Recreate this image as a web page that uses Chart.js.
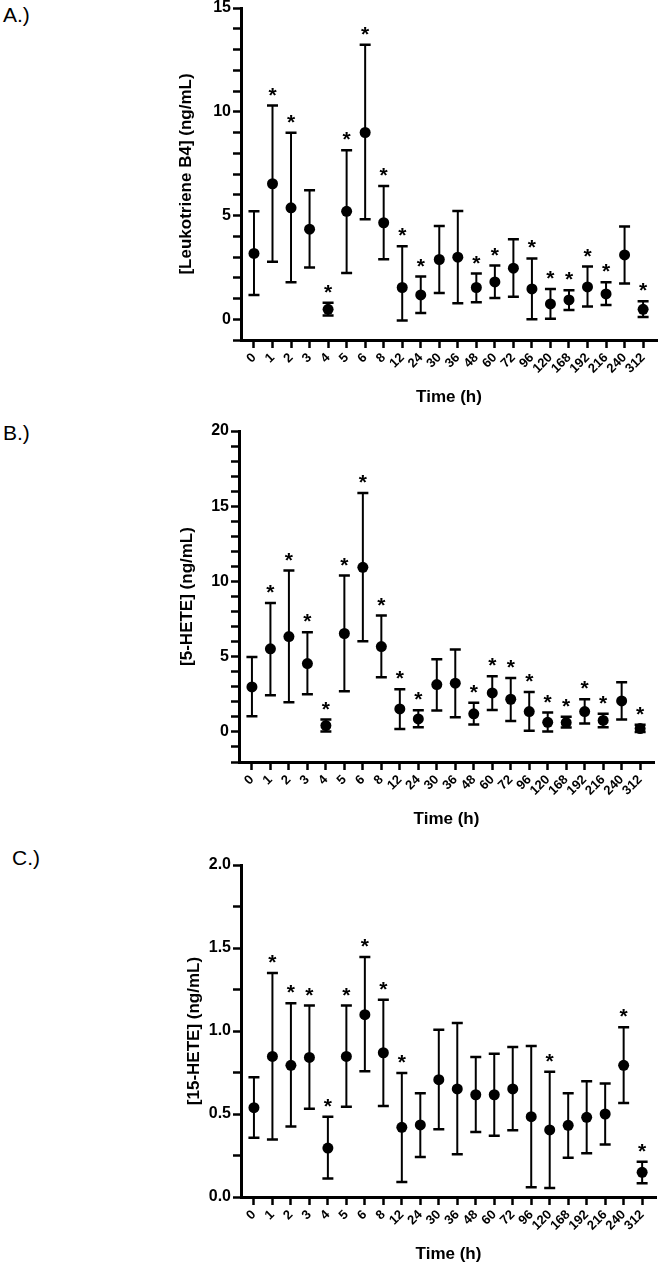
<!DOCTYPE html>
<html>
<head>
<meta charset="utf-8">
<script src="https://cdn.jsdelivr.net/npm/chart.js@4"></script>
<style>
  body { margin:0; background:#fff; width:658px; height:1269px; position:relative; overflow:hidden; }
  canvas { position:absolute; left:0; }
  .lbl { position:absolute; font:21px Arial, 'Liberation Sans', sans-serif; line-height:1; color:#000; }
</style>
</head>
<body>
<div class="lbl" style="left:3px;top:4px">A.)</div>
<div class="lbl" style="left:3px;top:422px">B.)</div>
<div class="lbl" style="left:12px;top:847px">C.)</div>
<canvas id="cA" width="658" height="420" style="top:0"></canvas>
<canvas id="cB" width="658" height="420" style="top:420px"></canvas>
<canvas id="cC" width="658" height="429" style="top:840px"></canvas>
<script>
// ── data: mean with lower / upper ends of the error bars, * = significant ──
const times = ['0','1','2','3','4','5','6','8','12','24','30','36','48','60','72','96','120','168','192','216','240','312'];

const ltb4Mean = [3.17, 6.53, 5.37, 4.34, 0.48, 5.20, 9.00, 4.65, 1.53, 1.17, 2.88, 2.99, 1.53, 1.80, 2.46, 1.46, 0.74, 0.93, 1.56, 1.22, 3.10, 0.48];
const ltb4Hi   = [5.20, 10.30, 8.99, 6.22, 0.80, 8.15, 13.23, 6.42, 3.52, 2.06, 4.49, 5.22, 2.20, 2.59, 3.86, 2.93, 1.46, 1.40, 2.54, 1.78, 4.47, 0.87];
const ltb4Lo   = [1.17, 2.77, 1.78, 2.49, 0.18, 2.23, 4.82, 2.89, -0.06, 0.30, 1.27, 0.77, 0.82, 1.03, 1.09, 0.00, 0.03, 0.45, 0.61, 0.69, 1.72, 0.11];
const ltb4Star = [0,1,1,0,1,1,1,1,1,1,0,0,1,1,0,1,1,1,1,1,0,1];

const hete5Mean = [2.99, 5.52, 6.34, 4.54, 0.42, 6.54, 10.94, 5.67, 1.53, 0.86, 3.15, 3.24, 1.20, 2.59, 2.17, 1.35, 0.64, 0.62, 1.35, 0.76, 2.06, 0.22];
const hete5Hi   = [4.98, 8.57, 10.72, 6.62, 0.82, 10.39, 15.88, 7.73, 2.84, 1.44, 4.83, 5.47, 1.93, 3.70, 3.59, 2.66, 1.29, 1.00, 2.17, 1.20, 3.30, 0.47];
const hete5Lo   = [1.04, 2.44, 1.97, 2.50, 0.03, 2.70, 6.03, 3.63, 0.20, 0.31, 1.42, 0.98, 0.49, 1.46, 0.73, 0.07, 0.03, 0.29, 0.56, 0.31, 0.82, 0.00];
const hete5Star = [0,1,1,1,1,1,1,1,1,1,0,0,1,1,1,1,1,1,1,1,0,1];

const hete15Mean = [0.538, 0.847, 0.793, 0.841, 0.295, 0.847, 1.098, 0.869, 0.420, 0.434, 0.707, 0.651, 0.616, 0.616, 0.651, 0.484, 0.404, 0.432, 0.480, 0.500, 0.793, 0.149];
const hete15Hi   = [0.721, 1.349, 1.167, 1.153, 0.484, 1.153, 1.446, 1.189, 0.747, 0.625, 1.008, 1.048, 0.843, 0.863, 0.904, 0.910, 0.755, 0.625, 0.697, 0.683, 1.022, 0.213];
const hete15Lo   = [0.357, 0.347, 0.424, 0.532, 0.112, 0.544, 0.757, 0.548, 0.090, 0.241, 0.408, 0.257, 0.392, 0.369, 0.402, 0.058, 0.054, 0.237, 0.263, 0.317, 0.566, 0.083];
const hete15Star = [0,1,1,1,1,1,1,1,1,0,0,0,0,0,0,0,1,0,0,0,1,1];

// y tick values: every unit, labelled every 5 (C: every 0.25, labelled every 0.5)
const ticksA = [-1,0,1,2,3,4,5,6,7,8,9,10,11,12,13,14,15];
const ticksB = [-2,-1,0,1,2,3,4,5,6,7,8,9,10,11,12,13,14,15,16,17,18,19,20];
const ticksC = [0,0.25,0.5,0.75,1,1.25,1.5,1.75,2];

const FONT = "Arial, 'Liberation Sans', sans-serif";
Chart.defaults.font.family = FONT;
Chart.defaults.color = '#000';

// error bars under the dots, stars above the caps
const errBars = {
  id: 'errBars',
  beforeDatasetsDraw(chart) {
    const ds = chart.data.datasets[0], x = chart.scales.x, y = chart.scales.y, ctx = chart.ctx;
    ctx.save();
    ctx.strokeStyle = '#000';
    ds.data.forEach((p, i) => {
      const px = x.getPixelForValue(p.x);
      const hi = y.getPixelForValue(ds.hi[i]), lo = y.getPixelForValue(ds.lo[i]);
      ctx.lineWidth = 2;
      ctx.beginPath(); ctx.moveTo(px, hi); ctx.lineTo(px, lo); ctx.stroke();
      ctx.lineWidth = 2.5;
      ctx.beginPath();
      ctx.moveTo(px-5.5, hi); ctx.lineTo(px+5.5, hi);
      ctx.moveTo(px-5.5, lo); ctx.lineTo(px+5.5, lo);
      ctx.stroke();
    });
    ctx.restore();
  },
  afterDatasetsDraw(chart) {
    const ds = chart.data.datasets[0], x = chart.scales.x, y = chart.scales.y, ctx = chart.ctx;
    ctx.save();
    ctx.fillStyle = '#000';
    ctx.font = 'bold 21px ' + FONT;
    ctx.textAlign = 'center';
    ctx.textBaseline = 'alphabetic';
    ds.data.forEach((p, i) => {
      if (!ds.star[i]) return;
      const px = x.getPixelForValue(p.x), hi = y.getPixelForValue(ds.hi[i]);
      ctx.fillText('*', px, hi - 4);
    });
    ctx.restore();
  }
};

function panel(id, mean, hi, lo, star, yt, p) {
  return new Chart(document.getElementById(id), {
    type: 'scatter',
    data: { datasets: [{ data: mean.map((v, i) => ({x:i, y:v})), hi, lo, star,
      pointRadius:5.5, pointBackgroundColor:'#000', pointBorderWidth:0, showLine:false }] },
    options: {
      responsive:false, animation:false, events:[],
      layout:{ autoPadding:false, padding:{ left:p.left, top:p.top, right:p.right, bottom:0 } },
      plugins:{ legend:{display:false}, tooltip:{enabled:false} },
      scales:{
        x:{ type:'linear', min:-0.7, max:21.75,
            afterBuildTicks: s => { s.ticks = times.map((t, i) => ({value:i})); },
            afterFit: s => { s.height = p.xh; s.paddingLeft = 0; s.paddingRight = 0; },
            grid:{ drawOnChartArea:false, color:'#000', tickLength:8, tickWidth:2.5 },
            border:{ color:'#000', width:3 },
            ticks:{ autoSkip:false, minRotation:45, maxRotation:45, padding:2, color:'#000',
                    font:{ size:13, weight:'bold' }, callback: v => times[v] },
            title:{ display:true, text:'Time (h)', color:'#000', font:{ size:17, weight:'bold' },
                    padding:{ top:0, bottom:p.tpad } } },
        y:{ min:yt.min, max:yt.max,
            afterBuildTicks: s => { s.ticks = yt.ticks.map(v => ({value:v})); },
            afterFit: s => { s.width = p.yw; s.paddingTop = 0; s.paddingBottom = 0; },
            grid:{ drawOnChartArea:false, color:'#000', tickLength:8, tickWidth:2.5 },
            border:{ color:'#000', width:3 },
            ticks:{ autoSkip:false, padding:2, color:'#000',
                    font:{ size:16, weight:'bold', lineHeight:1 }, callback: yt.fmt },
            title:{ display:true, text:yt.title, color:'#000', font:{ size:17, weight:'bold' },
                    padding:{ top:0, bottom:0 } } }
      }
    },
    plugins:[errBars]
  });
}

const every5 = v => (v % 5 === 0 ? String(v) : ' ');
const half   = v => (Math.abs(v*2 - Math.round(v*2)) < 1e-6 ? v.toFixed(1) : ' ');

panel('cA', ltb4Mean, ltb4Hi, ltb4Lo, ltb4Star,
  { min:-1, max:15, ticks:ticksA, fmt:every5, title:'[Leukotriene B4] (ng/mL)' },
  { left:176, top:8, right:1, yw:65, xh:80, tpad:12 });
panel('cB', hete5Mean, hete5Hi, hete5Lo, hete5Star,
  { min:-2, max:20, ticks:ticksB, fmt:every5, title:'[5-HETE] (ng/mL)' },
  { left:177, top:11, right:4, yw:62, xh:78, tpad:10 });
panel('cC', hete15Mean, hete15Hi, hete15Lo, hete15Star,
  { min:0, max:2, ticks:ticksC, fmt:half, title:'[15-HETE] (ng/mL)' },
  { left:184, top:25, right:2, yw:57, xh:72, tpad:4 });
</script>
</body>
</html>
